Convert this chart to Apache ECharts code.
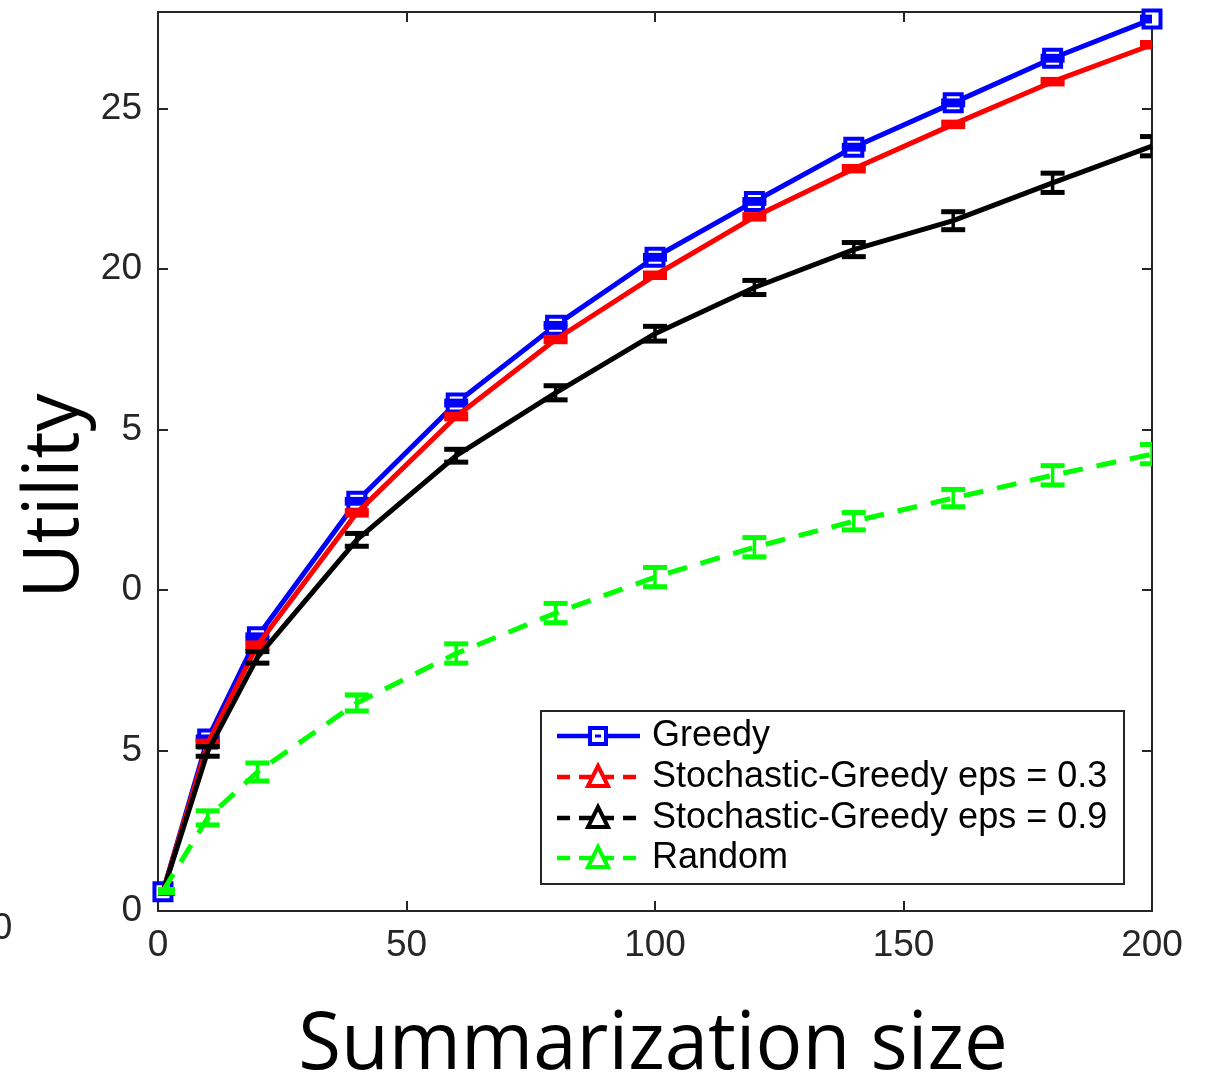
<!DOCTYPE html>
<html>
<head>
<meta charset="utf-8">
<title>Utility vs. summarization size</title>
<script src="https://cdn.jsdelivr.net/npm/echarts@6/dist/echarts.min.js"></script>
<style>
  html, body { margin: 0; padding: 0; background: #fff; }
  #chart { width: 1208px; height: 1077px; }
</style>
</head>
<body>
<div id="chart"></div>
<script>
// Summarization sizes (x positions of every measured point)
const sizes = [1, 10, 20, 40, 60, 80, 100, 120, 140, 160, 180, 200];

// Mean utility and error-bar half widths per method
const greedy      = [0.60, 5.36, 8.54, 12.76, 15.82, 18.24, 20.36, 22.10, 23.79, 25.17, 26.56, 27.78];
const greedyErr   = [0.04, 0.06, 0.06, 0.06, 0.06, 0.06, 0.06, 0.06, 0.06, 0.06, 0.06, 0.06];
const sg03        = [0.60, 5.22, 8.28, 12.40, 15.40, 17.80, 19.80, 21.62, 23.12, 24.50, 25.83, 26.98];
const sg03Err     = [0.04, 0.07, 0.07, 0.07, 0.07, 0.07, 0.07, 0.07, 0.07, 0.07, 0.07, 0.07];
const sg09        = [0.60, 4.97, 7.90, 11.56, 14.18, 16.14, 17.98, 19.42, 20.60, 21.50, 22.68, 23.82];
const sg09Err     = [0.05, 0.15, 0.18, 0.20, 0.20, 0.22, 0.23, 0.22, 0.22, 0.28, 0.30, 0.30];
const randomSel   = [0.62, 2.90, 4.33, 6.48, 8.02, 9.28, 10.40, 11.33, 12.14, 12.86, 13.57, 14.23];
const randomErr   = [0.05, 0.22, 0.28, 0.25, 0.30, 0.30, 0.30, 0.30, 0.27, 0.27, 0.30, 0.30];

// Axis ticks and the labels printed beside them
const xTicks = [0, 50, 100, 150, 200];
const yTickValues = [0, 5, 10, 15, 20, 25];
const yTickLabels = ['0', '5', '0', '5', '20', '25'];

// Legend entries
const legendNames = ['Greedy', 'Stochastic-Greedy eps = 0.3', 'Stochastic-Greedy eps = 0.9', 'Random'];

const BLUE = '#0000ff', RED = '#ff0000', BLACK = '#000000', GREEN = '#00ff00';
const AXIS = '#262626';
const TICK_FONT = '"Liberation Sans", Arial, Helvetica, sans-serif';
const LABEL_FONT = '"Open Sans", "Noto Sans", sans-serif';

const chart = echarts.init(document.getElementById('chart'), null, { renderer: 'canvas' });

function pairs(vals) { return sizes.map((x, i) => [x, vals[i]]); }

function lineSeries(name, vals, color, z, opts) {
  return Object.assign({
    type: 'line',
    name: name,
    data: pairs(vals),
    z: z,
    symbol: 'none',
    lineStyle: { color: color, width: 5, type: 'solid' },
    itemStyle: { color: color },
    silent: true,
    clip: false
  }, opts || {});
}

// Error bars: vertical stem plus two caps, clipped to the plot area
function errorSeries(name, vals, errs, color, z) {
  return {
    type: 'custom',
    name: name + ' err',
    z: z,
    silent: true,
    data: sizes.map((x, i) => [x, vals[i], errs[i]]),
    encode: { x: 0, y: 1 },
    renderItem: function (params, api) {
      const x = api.value(0), y = api.value(1), e = api.value(2);
      const top = api.coord([x, y + e]);
      const bot = api.coord([x, y - e]);
      const cs = params.coordSys;
      const clip = { x: cs.x, y: cs.y, width: cs.width, height: cs.height };
      const half = 12, t = 5, stem = 3.5;
      const rects = [
        { x: top[0] - stem / 2, y: top[1], width: stem, height: Math.max(bot[1] - top[1], 0.1) },
        { x: top[0] - half, y: top[1] - t / 2, width: half * 2, height: t },
        { x: bot[0] - half, y: bot[1] - t / 2, width: half * 2, height: t }
      ];
      const children = [];
      rects.forEach(function (r) {
        const c = echarts.graphic.clipRectByRect(r, clip);
        if (c) children.push({ type: 'rect', shape: c, style: { fill: color } });
      });
      return { type: 'group', children: children };
    }
  };
}

// Legend drawn as a boxed panel inside the plot
const legendBox = { x: 541, y: 711, w: 583, h: 173 };
const legendRows = [736, 777, 818, 858];
const legendStyles = [
  { color: BLUE, dash: null, marker: 'square' },
  { color: RED, dash: [13, 9], marker: 'triangle' },
  { color: BLACK, dash: [13, 9], marker: 'triangle' },
  { color: GREEN, dash: [13, 9], marker: 'triangle' }
];

function legendGraphics() {
  const g = [{
    type: 'rect', z: 100,
    shape: { x: legendBox.x, y: legendBox.y, width: legendBox.w, height: legendBox.h },
    style: { fill: '#ffffff', stroke: AXIS, lineWidth: 2 }
  }];
  legendNames.forEach(function (name, i) {
    const y = legendRows[i], s = legendStyles[i];
    g.push({
      type: 'line', z: 101,
      shape: { x1: 557, y1: y, x2: 640, y2: y },
      style: { stroke: s.color, lineWidth: 4.5, lineDash: s.dash }
    });
    if (s.marker === 'square') {
      g.push({
        type: 'rect', z: 102,
        shape: { x: 590, y: y - 8, width: 16, height: 16 },
        style: { fill: '#ffffff', stroke: s.color, lineWidth: 4 }
      });
      g.push({
        type: 'rect', z: 103,
        shape: { x: 595, y: y - 1.5, width: 6, height: 3 },
        style: { fill: s.color }
      });
    } else {
      g.push({
        type: 'polygon', z: 102,
        shape: { points: [[598, y - 11], [588, y + 9], [608, y + 9]] },
        style: { fill: '#ffffff', stroke: s.color, lineWidth: 4 }
      });
    }
    g.push({
      type: 'text', z: 103,
      x: 652, y: y,
      style: { text: name, fill: '#000000', font: '36px ' + TICK_FONT, textVerticalAlign: 'middle', textAlign: 'left' }
    });
  });
  return g;
}

const option = {
  animation: false,
  backgroundColor: '#ffffff',
  grid: { left: 158, right: 56, top: 12, bottom: 166, containLabel: false },
  xAxis: [{
    type: 'value', min: xTicks[0], max: xTicks[xTicks.length - 1], interval: 50,
    position: 'bottom',
    axisLine: { show: true, onZero: false, lineStyle: { color: AXIS, width: 2 } },
    axisTick: { show: true, inside: true, length: 10, lineStyle: { color: AXIS, width: 2 } },
    axisLabel: { color: AXIS, fontSize: 37, fontFamily: TICK_FONT, margin: 16 },
    splitLine: { show: false }
  }, {
    type: 'value', min: xTicks[0], max: xTicks[xTicks.length - 1], interval: 50,
    position: 'top',
    axisLine: { show: true, onZero: false, lineStyle: { color: AXIS, width: 2 } },
    axisTick: { show: true, inside: true, length: 10, lineStyle: { color: AXIS, width: 2 } },
    axisLabel: { show: false },
    splitLine: { show: false }
  }],
  yAxis: [{
    type: 'value', min: 0, max: 28, interval: 5,
    position: 'left',
    axisLine: { show: true, onZero: false, lineStyle: { color: AXIS, width: 2 } },
    axisTick: { show: true, inside: true, length: 10, lineStyle: { color: AXIS, width: 2 } },
    axisLabel: {
      color: AXIS, fontSize: 37, fontFamily: TICK_FONT, margin: 16, showMaxLabel: false,
      formatter: function (v) {
        const i = yTickValues.indexOf(v);
        return i >= 0 ? yTickLabels[i] : '';
      }
    },
    splitLine: { show: false }
  }, {
    type: 'value', min: 0, max: 28, interval: 5,
    position: 'right',
    axisLine: { show: true, onZero: false, lineStyle: { color: AXIS, width: 2 } },
    axisTick: { show: true, inside: true, length: 10, lineStyle: { color: AXIS, width: 2 } },
    axisLabel: { show: false },
    splitLine: { show: false }
  }],
  series: [
    lineSeries(legendNames[0], greedy, BLUE, 2, {
      symbol: 'rect', symbolSize: 17, showSymbol: true,
      itemStyle: { color: '#ffffff', borderColor: BLUE, borderWidth: 4 }
    }),
    errorSeries(legendNames[0], greedy, greedyErr, BLUE, 3),
    lineSeries(legendNames[1], sg03, RED, 4),
    errorSeries(legendNames[1], sg03, sg03Err, RED, 5),
    lineSeries(legendNames[2], sg09, BLACK, 6),
    errorSeries(legendNames[2], sg09, sg09Err, BLACK, 7),
    lineSeries(legendNames[3], randomSel, GREEN, 8, { lineStyle: { color: GREEN, width: 5, type: [20, 14] } }),
    errorSeries(legendNames[3], randomSel, randomErr, GREEN, 9)
  ],
  graphic: legendGraphics().concat([
    {
      type: 'text', z: 50,
      x: 56, y: 496, rotation: Math.PI / 2,
      style: { text: 'Utility', fill: '#000000', font: '76px ' + LABEL_FONT, textAlign: 'center', textVerticalAlign: 'middle' }
    },
    {
      type: 'text', z: 50,
      x: 653, y: 1046, scaleX: 0.975,
      style: { text: 'Summarization size', fill: '#000000', font: '80px ' + LABEL_FONT, textAlign: 'center', textVerticalAlign: 'middle' }
    },
    {
      type: 'text', z: 50,
      x: 2, y: 929,
      style: { text: '0', fill: AXIS, font: '37px ' + TICK_FONT, textAlign: 'center', textVerticalAlign: 'middle' }
    }
  ])
};

chart.setOption(option);
</script>
</body>
</html>
